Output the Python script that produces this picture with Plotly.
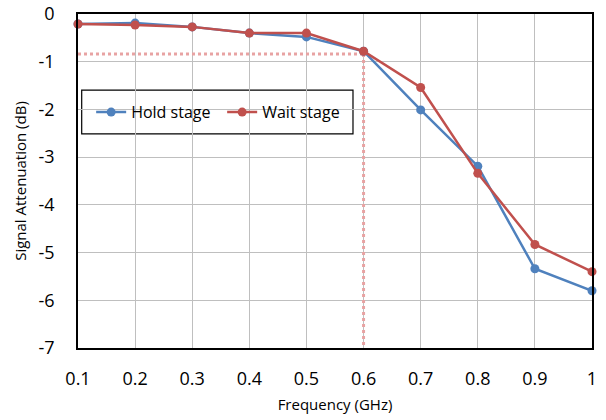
import plotly.graph_objects as go

freq = [0.1, 0.2, 0.3, 0.4, 0.5, 0.6, 0.7, 0.8, 0.9, 1.0]
hold_stage = [-0.21, -0.19, -0.27, -0.40, -0.48, -0.78, -2.01, -3.19, -5.34, -5.80]
wait_stage = [-0.21, -0.23, -0.27, -0.40, -0.40, -0.78, -1.54, -3.34, -4.83, -5.40]
x_ticks = [0.1, 0.2, 0.3, 0.4, 0.5, 0.6, 0.7, 0.8, 0.9, 1.0]
x_ticktext = ["0.1", "0.2", "0.3", "0.4", "0.5", "0.6", "0.7", "0.8", "0.9", "1"]
y_ticks = [0, -1, -2, -3, -4, -5, -6, -7]
y_ticktext = ["0", "-1", "-2", "-3", "-4", "-5", "-6", "-7"]
ref_freq = 0.6
ref_level = -0.84

FONT = "Open Sans"
BLUE = "#4F81BD"
RED = "#C0504D"
REF = "#E8A3A3"

fig = go.Figure()
# reference dotted lines
fig.add_trace(go.Scatter(x=[0.1, ref_freq], y=[ref_level, ref_level], mode="lines",
                         line=dict(color=REF, width=3, dash="dot"), showlegend=False, hoverinfo="skip"))
fig.add_trace(go.Scatter(x=[ref_freq, ref_freq], y=[ref_level, -7], mode="lines",
                         line=dict(color=REF, width=3, dash="dot"), showlegend=False, hoverinfo="skip"))
fig.add_trace(go.Scatter(x=freq, y=hold_stage, mode="lines+markers", name="Hold stage",
                         line=dict(color=BLUE, width=2.5), marker=dict(size=9, color=BLUE),
                         cliponaxis=False))
fig.add_trace(go.Scatter(x=freq, y=wait_stage, mode="lines+markers", name="Wait stage",
                         line=dict(color=RED, width=2.5), marker=dict(size=9, color=RED),
                         cliponaxis=False))

fig.update_layout(
    width=606, height=420,
    margin=dict(l=78, r=14, t=14, b=72, autoexpand=False),
    paper_bgcolor="white", plot_bgcolor="white",
    font=dict(family=FONT, color="black"),
    showlegend=True,
    legend=dict(orientation="h", x=0.0256, y=0.706, xanchor="left", yanchor="middle",
                bgcolor="rgba(0,0,0,0)", font=dict(size=16, family=FONT),
                entrywidth=86, entrywidthmode="pixels", tracegroupgap=0),
    shapes=[dict(type="rect", xref="paper", yref="paper", x0=0.0072, x1=0.535,
                 y0=0.641, y1=0.772, line=dict(color="black", width=1.2),
                 fillcolor="white", layer="below")],
    xaxis=dict(range=[0.1, 1.0], tickvals=x_ticks, ticktext=x_ticktext, automargin=False,
               showgrid=True, gridcolor="#BFBFBF", gridwidth=1,
               showline=True, linecolor="black", linewidth=1.5, mirror=True,
               zeroline=False, ticks="", ticklabelstandoff=14,
               tickfont=dict(size=18, family=FONT),
               title=dict(text="Frequency (GHz)", font=dict(size=15, family=FONT), standoff=10)),
    yaxis=dict(range=[-7, 0], tickvals=y_ticks, ticktext=y_ticktext, automargin=False,
               showgrid=True, gridcolor="#BFBFBF", gridwidth=1,
               showline=True, linecolor="black", linewidth=1.5, mirror=True,
               zeroline=False, ticks="", ticklabelstandoff=18,
               tickfont=dict(size=18, family=FONT),
               title=dict(text="Signal Attenuation (dB)", font=dict(size=15, family=FONT), standoff=8)),
)

fig.write_html("out.html", config={"displayModeBar": False},
               post_script="document.body.style.margin='0';document.body.style.overflow='hidden';")
